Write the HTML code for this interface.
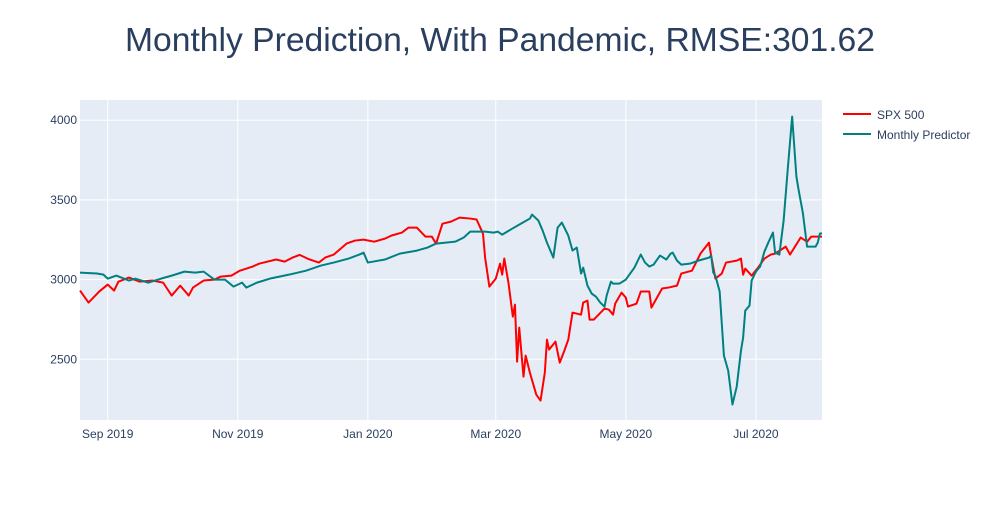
<!DOCTYPE html>
<html><head><meta charset="utf-8"><style>
body{margin:0;background:#fff;font-family:"Liberation Sans",sans-serif}
svg text{font-family:"Liberation Sans",sans-serif;fill:#2a3f5f}
</style></head><body>
<svg id="chart" width="1000" height="500" xmlns="http://www.w3.org/2000/svg">
<rect width="1000" height="500" fill="#fff"/>
<text x="500" y="51" text-anchor="middle" font-size="33" textLength="750" lengthAdjust="spacingAndGlyphs">Monthly Prediction, With Pandemic, RMSE:301.62</text>
<rect x="80" y="100" width="742" height="320" fill="#e5ecf6"/>
<g id="grid"></g><g id="series"></g><g id="ticks"></g>
<g>
<g><line x1="843" y1="114" x2="871" y2="114" stroke="#ff0000" stroke-width="2"/><text x="877" y="119" font-size="12">SPX 500</text></g>
<g><line x1="843" y1="134" x2="871" y2="134" stroke="#008080" stroke-width="2"/><text x="877" y="139" font-size="12">Monthly Predictor</text></g>
</g>
</svg>
<script>
const spxDays=[0,4,9,13,16,18,23,28,34,39,43,47,51,53,58,63,66,71,75,81,84,92,96,100,103,107,112,115,119,125,129,133,138,143,146,151,154,158,162,165,167,170,174,178,183,186,189,190,192,195,197,198,199,201,203,204,205,206,208,209,211,214,216,218,219,220,223,225,227,229,231,235,236,238,239,241,246,248,250,251,254,256,257,261,263,267,268,273,276,280,282,287,291,295,296,298,301,303,308,310,311,312,315,318,321,324,326,331,333,338,341,343,348];
const spxValues=[2931,2856,2925,2969,2931,2987,3013,2987,2994,2981,2900,2962,2900,2950,2994,3000,3019,3025,3056,3082,3100,3126,3113,3140,3155,3130,3107,3138,3157,3226,3245,3251,3238,3257,3276,3295,3326,3326,3270,3270,3226,3351,3364,3389,3383,3377,3289,3138,2956,3006,3100,3031,3132,2975,2768,2843,2485,2699,2391,2523,2416,2278,2241,2416,2623,2561,2611,2479,2548,2623,2793,2780,2856,2868,2749,2749,2818,2812,2780,2849,2918,2887,2831,2849,2925,2925,2824,2944,2950,2962,3038,3056,3163,3232,3151,3006,3038,3107,3119,3132,3031,3069,3025,3075,3132,3157,3163,3207,3157,3264,3238,3270,3270];
const predDays=[0,8,11,13,17,23,26,32,38,43,49,54,58,63,68,72,76,78,83,89,98,106,113,119,126,131,133,135,143,150,158,163,167,176,180,183,190,194,196,198,202,206,211,212,215,217,219,222,224,226,229,231,233,235,236,238,240,242,244,246,247,249,250,253,256,260,263,265,267,269,272,275,277,278,280,282,286,290,295,296,297,298,300,302,304,306,308,310,311,312,314,315,317,319,321,323,325,326,328,330,332,334,336,337,339,341,343,345,346,347,348];
const predValues=[3044,3038,3031,3006,3025,2994,3006,2981,3006,3025,3050,3044,3050,3000,3000,2956,2981,2950,2981,3006,3031,3056,3088,3107,3132,3157,3169,3107,3126,3163,3182,3201,3226,3238,3264,3301,3301,3295,3301,3282,3314,3345,3383,3408,3370,3307,3232,3138,3326,3358,3276,3182,3201,3038,3075,2962,2912,2893,2856,2830,2900,2987,2975,2975,3000,3075,3157,3107,3082,3094,3151,3126,3163,3169,3119,3094,3100,3119,3138,3151,3044,3025,2925,2523,2429,2216,2328,2554,2636,2805,2837,2994,3050,3082,3176,3238,3295,3169,3157,3370,3703,4023,3646,3565,3420,3207,3207,3207,3232,3289,3289];
const yTicks=[2500,3000,3500,4000];
const xTickDays=[13,74,135,195,256,317];
const xTickLabels=["Sep 2019","Nov 2019","Jan 2020","Mar 2020","May 2020","Jul 2020"];
const NS="http://www.w3.org/2000/svg";
const X0=80,X1=822,Y0=100,Y1=420,DMAX=348,VLO=2119,VHI=4127;
const xs=d=>X0+d*(X1-X0)/DMAX;
const ys=v=>Y1-(v-VLO)*(Y1-Y0)/(VHI-VLO);
const grid=document.getElementById('grid'),ticks=document.getElementById('ticks'),ser=document.getElementById('series');
function mk(tag,attrs,parent){const e=document.createElementNS(NS,tag);for(const k in attrs)e.setAttribute(k,attrs[k]);parent.appendChild(e);return e;}
yTicks.forEach(v=>{
 const l=mk('line',{x1:X0,x2:X1,y1:ys(v),y2:ys(v),stroke:'#fff','stroke-width':1},grid);
 
 
 const t=mk('text',{x:X0-3,y:ys(v)+4,'text-anchor':'end','font-size':12},ticks);
 t.textContent=v;
 
 
});
xTickDays.forEach((d,i)=>{
 const l=mk('line',{x1:xs(d),x2:xs(d),y1:Y0,y2:Y1,stroke:'#fff','stroke-width':1},grid);
 
 
 const t=mk('text',{x:xs(d),y:Y1+18,'text-anchor':'middle','font-size':12},ticks);
 t.textContent=xTickLabels[i];
 
 
});
function line(days,vals,color,name){
 const p=mk('polyline',{points:days.map((d,i)=>xs(d)+','+ys(vals[i])).join(' '),fill:'none',stroke:color,'stroke-width':2,'stroke-linejoin':'round'},ser);
 
 
}
line(spxDays,spxValues,'#ff0000','spx-500-line');
line(predDays,predValues,'#008080','monthly-predictor-line');
</script>
</body></html>
